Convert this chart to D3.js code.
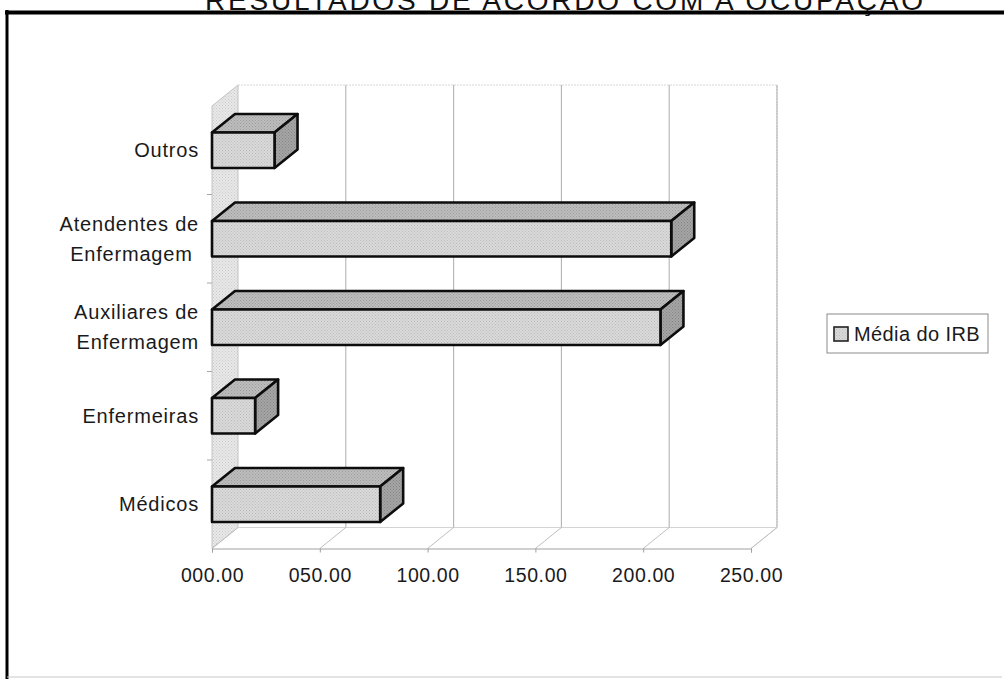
<!DOCTYPE html>
<html>
<head>
<meta charset="utf-8">
<script src="https://cdn.jsdelivr.net/npm/d3@7"></script>
<style>
  body { margin: 0; background: #fff; }
  text { font-family: Arial, "Liberation Sans", sans-serif; }
</style>
</head>
<body>
<svg id="chart" width="1004" height="679"></svg>
<script>
// Occupational groups (top to bottom) and their mean IRB
const categories = ["Outros", "Atendentes de\nEnfermagem\u00a0", "Auxiliares de\nEnfermagem", "Enfermeiras", "Médicos"];
const irbValues = [29, 213, 208, 20, 78];
const xTickValues = [0, 50, 100, 150, 200, 250];
const seriesName = "Média do IRB";
const chartTitle = "RESULTADOS DE ACORDO COM A OCUPAÇÃO";

const svg = d3.select("#chart");

// ---- geometry of the 3D plot box ----
const wallDX = 26, wallDY = -21;      // depth offset of the back wall
const barDX = 23, barDY = -18.5;      // depth offset of each bar

const x = d3.scaleLinear().domain([0, 250]).range([212, 751]);
const y = d3.scaleBand().domain(categories).range([106, 548.5])
  .paddingInner(0.6).paddingOuter(0.3);

const yTop = y.range()[0], yBottom = y.range()[1];
const x0 = x(0), x1 = x(250);

// textured fills for walls and bar faces
const defs = svg.append("defs");
function dotted(id, base, dot) {
  const p = defs.append("pattern").attr("id", id).attr("width", 3).attr("height", 3)
    .attr("patternUnits", "userSpaceOnUse");
  p.append("rect").attr("width", 3).attr("height", 3).attr("fill", base);
  p.append("rect").attr("width", 1).attr("height", 1).attr("fill", dot);
  p.append("rect").attr("x", 1.5).attr("y", 1.5).attr("width", 1).attr("height", 1).attr("fill", dot);
}
dotted("wallFill", "#e8e8e8", "#cccccc");
dotted("frontFill", "#dadada", "#bcbcbc");
dotted("topFill", "#bdbdbd", "#9c9c9c");
dotted("sideFill", "#a5a5a5", "#858585");

// ---- title (runs above the frame edge) ----
svg.append("text")
  .attr("x", 564).attr("y", 10)
  .attr("text-anchor", "middle")
  .attr("font-size", 28)
  .attr("textLength", 718)
  .attr("lengthAdjust", "spacing")
  .attr("fill", "#111")
  .text(chartTitle);

// ---- outer frame ----
svg.append("line").attr("x1", 5).attr("x2", 1004).attr("y1", 12.5).attr("y2", 12.5)
  .attr("stroke", "#000").attr("stroke-width", 4);
svg.append("line").attr("x1", 7).attr("x2", 7).attr("y1", 10).attr("y2", 679)
  .attr("stroke", "#000").attr("stroke-width", 3);
svg.append("line").attr("x1", 7).attr("x2", 1002).attr("y1", 677).attr("y2", 677)
  .attr("stroke", "#c8c8c8").attr("stroke-width", 1);

const plot = svg.append("g");

// side wall (category axis plane)
plot.append("polygon")
  .attr("points", [[x0, yTop], [x0 + wallDX, yTop + wallDY], [x0 + wallDX, yBottom + wallDY], [x0, yBottom]].join(" "))
  .attr("fill", "url(#wallFill)").attr("stroke", "#c4c4c4").attr("stroke-width", 1);

// back wall outline
plot.append("path")
  .attr("d", `M${x0 + wallDX},${yTop + wallDY}H${x1 + wallDX}V${yBottom + wallDY}`)
  .attr("fill", "none").attr("stroke", "#d8d8d8").attr("stroke-width", 1.2)
  .attr("stroke-dasharray", "2,1");

// floor outline
plot.append("path")
  .attr("d", `M${x0 + wallDX},${yBottom + wallDY}H${x1 + wallDX}L${x1},${yBottom}`)
  .attr("fill", "none").attr("stroke", "#d4d4d4").attr("stroke-width", 1);

// gridlines: vertical on the back wall, slanted across the floor
const grid = plot.append("g");
xTickValues.filter(v => v > 0).forEach(v => {
  grid.append("line")
    .attr("x1", x(v) + wallDX).attr("x2", x(v) + wallDX)
    .attr("y1", yTop + wallDY).attr("y2", yBottom + wallDY)
    .attr("stroke", "#b4b4b4").attr("stroke-width", 1.1);
});
xTickValues.forEach(v => {
  grid.append("line")
    .attr("x1", x(v)).attr("y1", yBottom)
    .attr("x2", x(v) + wallDX).attr("y2", yBottom + wallDY)
    .attr("stroke", "#c0c0c0").attr("stroke-width", 1);
});

// category tick marks on the front edge of the side wall
const bounds = categories.slice(1).map(c => y(c) - y.step() * y.paddingInner() / 2);
plot.selectAll(".ctick").data(bounds).join("line")
  .attr("x1", x0 - 5).attr("x2", x0).attr("y1", d => d).attr("y2", d => d)
  .attr("stroke", "#a8a8a8").attr("stroke-width", 1);

// value axis along the front edge of the floor
const xAxis = d3.axisBottom(x).tickValues(xTickValues).tickFormat(d3.format("06.2f"))
  .tickSize(4).tickPadding(16);
const axisG = plot.append("g").attr("transform", `translate(0,${yBottom})`).call(xAxis);
axisG.select(".domain").attr("stroke", "#a0a0a0");
axisG.selectAll(".tick line").attr("stroke", "#a0a0a0");
axisG.selectAll(".tick text")
  .attr("font-size", 19.5).attr("fill", "#1a1a1a")
  .attr("font-family", "Arial, 'Liberation Sans', sans-serif")
  .attr("letter-spacing", 0.6);

// category labels
const bw = y.bandwidth();
const catLabels = plot.append("g");
categories.forEach(c => {
  const lines = c.split("\n");
  const cy = y(c) + bw / 2;
  const t = catLabels.append("text")
    .attr("x", 199).attr("text-anchor", "end")
    .attr("font-size", 20).attr("fill", "#1a1a1a")
    .attr("letter-spacing", 0.8);
  lines.forEach((ln, i) => {
    t.append("tspan").attr("x", 199)
      .attr("y", cy + (i - (lines.length - 1) / 2) * 30 + 7)
      .text(ln);
  });
});

// 3D bars
const bars = plot.append("g").selectAll("g").data(categories.map((c, i) => ({ c, v: irbValues[i] })))
  .join("g");
bars.each(function (d) {
  const g = d3.select(this);
  const xa = x(0), xb = x(d.v), ya = y(d.c), yb = ya + bw;
  const apply = sel => sel.attr("stroke", "#0d0d0d").attr("stroke-width", 2.6).attr("stroke-linejoin", "round");
  apply(g.append("polygon")
    .attr("points", [[xa, ya], [xa + barDX, ya + barDY], [xb + barDX, ya + barDY], [xb, ya]].join(" "))
    .attr("fill", "url(#topFill)"));
  apply(g.append("polygon")
    .attr("points", [[xb, ya], [xb + barDX, ya + barDY], [xb + barDX, yb + barDY], [xb, yb]].join(" "))
    .attr("fill", "url(#sideFill)"));
  apply(g.append("rect")
    .attr("x", xa).attr("y", ya).attr("width", xb - xa).attr("height", bw)
    .attr("fill", "url(#frontFill)"));
});

// legend
const legend = svg.append("g").attr("transform", "translate(827,314)");
legend.append("rect").attr("width", 161).attr("height", 39)
  .attr("fill", "#fff").attr("stroke", "#8a8a8a").attr("stroke-width", 1);
legend.append("rect").attr("x", 7).attr("y", 13).attr("width", 14).attr("height", 14)
  .attr("fill", "url(#frontFill)").attr("stroke", "#222").attr("stroke-width", 1.6);
legend.append("text").attr("x", 27).attr("y", 27)
  .attr("font-size", 20).attr("fill", "#1a1a1a").attr("letter-spacing", 0.4)
  .text(seriesName);
</script>
</body>
</html>
